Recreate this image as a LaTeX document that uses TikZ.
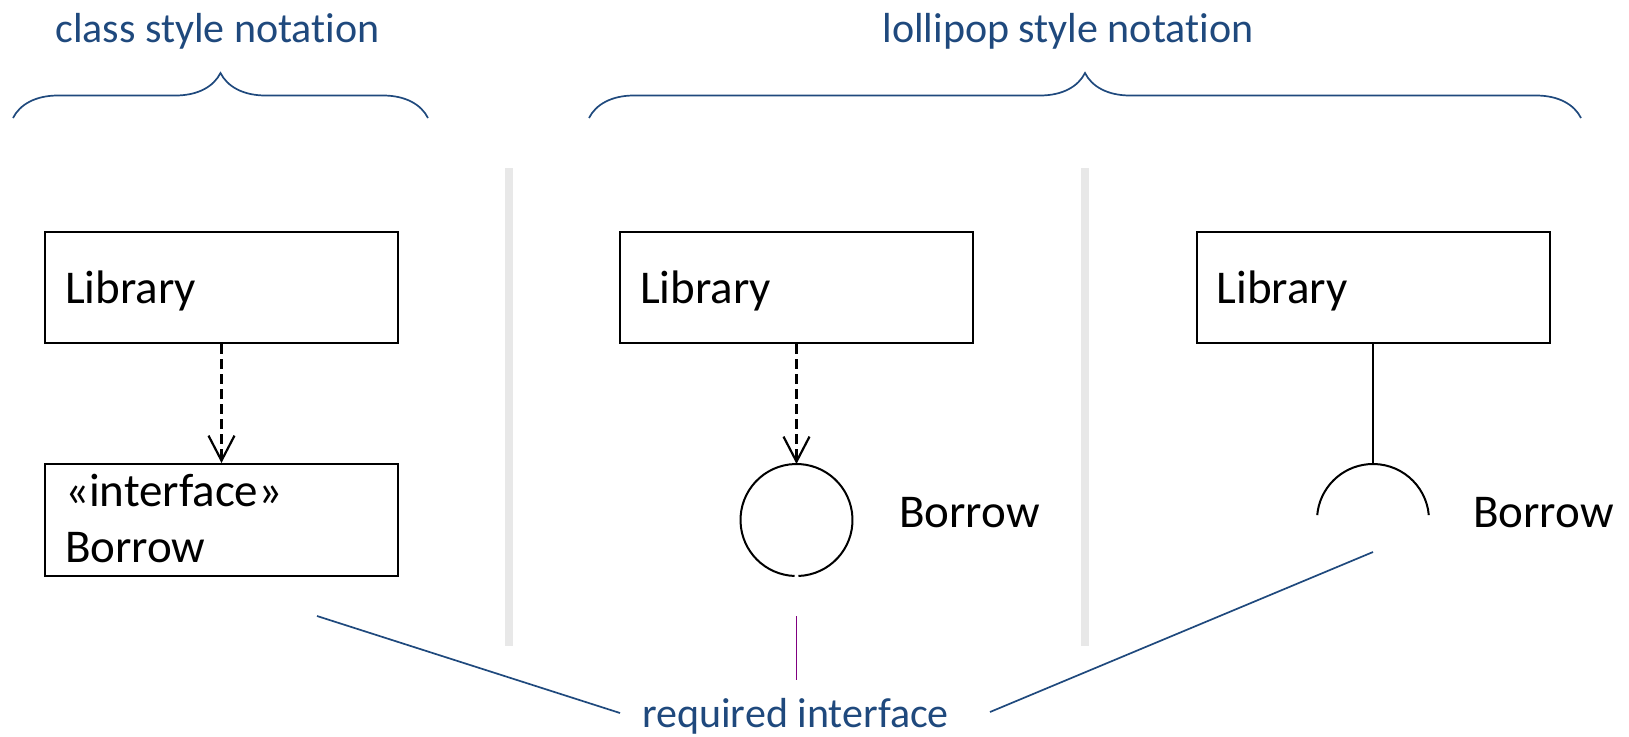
\documentclass[tikz,border=0pt]{standalone}
\usepackage{fontspec}
\setmainfont{Carlito}[Ligatures=NoCommon]
\usetikzlibrary{arrows.meta,decorations.pathreplacing}
\definecolor{noteblue}{RGB}{31,73,125}
\definecolor{sepgray}{RGB}{232,232,232}
\definecolor{notepurple}{RGB}{128,0,128}

\begin{document}
\begin{tikzpicture}[x=1pt, y=-1pt,
        box/.style={draw, line width=2pt, text width=313pt, inner xsep=20pt, inner ysep=0pt,
            minimum height=111pt, align=left, font=\fontsize{47}{56}\selectfont},
        lbl/.style={font=\fontsize{47}{56}\selectfont, inner sep=0pt},
        note/.style={noteblue, font=\fontsize{42}{50}\selectfont, inner sep=0pt},
        umlline/.style={line width=2pt},
        dep/.style={line width=2.4pt, dash pattern=on 10pt off 5pt,
            -{Straight Barb[length=25pt, width=26pt, line width=2.2pt]}},
        brc/.style={noteblue, line width=1.7pt, decorate, decoration={brace, amplitude=45pt}},
        divider/.style={sepgray, line width=8pt}]
        \useasboundingbox (0,0) rectangle (1629,736);

        \node[note, anchor=base] (classnote) at (217.5,42) {class style notation};
        \node[note, anchor=base] (lollinote) at (1068,42) {lollipop style notation};
        \draw[brc] (13,118) -- (428,118);
        \draw[brc] (589,118) -- (1581,118);

        \foreach \x in {509, 1085}
            \draw[divider] (\x,168) -- (\x,646);

        \node[box, text height=36pt, text depth=4pt] (lib1) at (221.5,287.5) {Library};
        \node[box, minimum height=112pt, text height=40pt, text depth=68pt] (borrow1) at (221.5,520) {«interface»\\Borrow};
        \draw[dep] (lib1.south) -- (borrow1.north);

        \node[box, text height=36pt, text depth=4pt] (lib2) at (796.5,287.5) {Library};
        \node[circle, minimum size=112pt, inner sep=0pt, outer sep=0pt] (ball) at (796.5,520) {};
        \draw[umlline] (ball.-88) arc[start angle=-88, end angle=268, radius=56pt];
        \draw[dep] (lib2.south) -- (ball.north);
        \node[lbl, anchor=base west] (borrow2) at (899,527) {Borrow};

        \node[box, text height=36pt, text depth=4pt] (lib3) at (1373,287.5) {Library};
        \coordinate (sock) at (1373,520);
        \draw[umlline] ([shift={(5:56pt)}]sock) arc[start angle=5, end angle=175, radius=56pt];
        \draw[umlline] (lib3.south) -- ([yshift=56pt]sock);
        \node[lbl, anchor=base west] (borrow3) at (1473,527) {Borrow};

        \node[note, anchor=base] (req) at (795.5,727) {required interface};
        \coordinate (classpt) at (317,616);
        \coordinate (reqL) at (620,713);
        \coordinate (reqR) at (990,712);
        \coordinate (sockpt) at (1373,552);
        \coordinate (ballpt) at (796.5,616);
        \coordinate (reqM) at (796.5,680);
        \draw[noteblue, line width=1.7pt] (classpt) -- (reqL);
        \draw[noteblue, line width=1.7pt] (reqR) -- (sockpt);
        \draw[notepurple, line width=1.7pt] (ballpt) -- (reqM);
    \end{tikzpicture}
\end{document}
